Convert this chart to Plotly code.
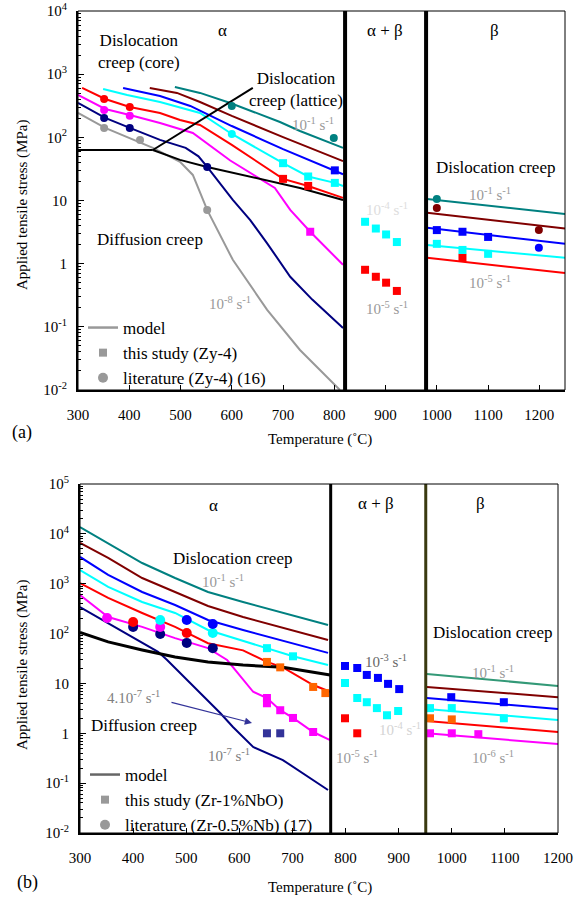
import plotly.graph_objects as go

W, H = 584, 899
FONT = "Liberation Serif, Times New Roman, Times, serif"

# ---------------- Panel (a): Zy-4 ----------------
a_phase_T = [821, 979]
a_xticks = [300, 400, 500, 600, 700, 800, 900, 1000, 1100, 1200]
a_yticks = [0.01, 0.1, 1, 10, 100, 1000, 10000]
a_yticktext = ["10<sup>-2</sup>", "10<sup>-1</sup>", "1", "10", "10<sup>2</sup>", "10<sup>3</sup>", "10<sup>4</sup>"]

# model curves, alpha region (T in degC, stress in MPa)
a_teal_T = [489, 538, 597, 694, 733, 817]
a_teal_S = [627, 505, 350, 175, 126, 68]
a_darkred_T = [440, 493, 538, 600, 700, 733, 817]
a_darkred_S = [605, 505, 363, 218, 101, 79, 42]
a_blue_T = [388, 460, 519, 600, 700, 801, 817]
a_blue_S = [605, 452, 314, 151, 65, 30, 26]
a_cyan_T = [349, 396, 460, 538, 600, 700, 749, 801, 817]
a_cyan_S = [583, 469, 363, 243, 113, 39, 24, 19, 17]
a_red_T = [308, 353, 401, 460, 499, 538, 600, 700, 749, 817]
a_red_S = [605, 405, 303, 243, 188, 157, 76, 22, 17, 11]
a_magenta_T = [300, 353, 401, 460, 524, 597, 684, 714, 753, 817]
a_magenta_S = [469, 281, 226, 169, 117, 43, 15.8, 7.1, 3.2, 0.96]
a_navy_T = [300, 353, 401, 460, 510, 535, 552, 602, 636, 669, 714, 757, 817]
a_navy_S = [350, 203, 141, 91, 68, 50, 34, 10.2, 4.9, 2.1, 0.62, 0.27, 0.096]
a_grey_T = [300, 353, 446, 499, 524, 538, 552, 602, 669, 733, 811]
a_grey_S = [243, 141, 68, 41, 25.4, 13.2, 7.1, 1.15, 0.186, 0.043, 0.01]

# model curves, beta region
a_beta_T = [981, 1250]
a_beta_teal_S = [10.6, 6.1]
a_beta_darkred_S = [6.4, 3.6]
a_beta_blue_S = [3.7, 2.06]
a_beta_cyan_S = [1.98, 1.24]
a_beta_red_S = [1.24, 0.71]

# mechanism boundaries
a_bnd_h_T = [300, 446]
a_bnd_h_S = [63, 63]
a_bnd_up_T = [446, 641]
a_bnd_up_S = [63, 605]
a_bnd_low_T = [446, 499, 552, 636, 733, 817]
a_bnd_low_S = [63, 44, 34, 23.6, 15.8, 10.2]

# this study (squares)
a_sq_red_T = [700, 749, 860, 881, 901, 922, 1050]
a_sq_red_S = [22, 17, 0.80, 0.62, 0.50, 0.37, 1.24]
a_sq_cyan_T = [700, 749, 801, 860, 881, 901, 922, 1000, 1050, 1100]
a_sq_cyan_S = [39, 24, 19, 4.6, 3.6, 2.9, 2.2, 2.06, 1.65, 1.43]
a_sq_blue_T = [801, 1000, 1050, 1100]
a_sq_blue_S = [30, 3.4, 3.2, 2.65]
a_sq_magenta_T = [753]
a_sq_magenta_S = [3.2]

# literature (dots)
a_dot_red_T = [351, 401]
a_dot_red_S = [405, 303]
a_dot_magenta_T = [351, 401]
a_dot_magenta_S = [271, 219]
a_dot_navy_T = [351, 401, 552]
a_dot_navy_S = [203, 141, 34]
a_dot_grey_T = [351, 421, 552]
a_dot_grey_S = [141, 91, 7.1]
a_dot_cyan_T = [600]
a_dot_cyan_S = [113]
a_dot_teal_T = [600, 799, 1000]
a_dot_teal_S = [314, 98, 10.6]
a_dot_darkred_T = [1000, 1199]
a_dot_darkred_S = [7.6, 3.4]
a_dot_blue_T = [1199]
a_dot_blue_S = [1.78]

# ---------------- Panel (b): Zr-1%NbO ----------------
b_phase_T = [772, 951]
b_xticks = [300, 400, 500, 600, 700, 800, 900, 1000, 1100, 1200]
b_yticks = [0.01, 0.1, 1, 10, 100, 1000, 10000, 100000]
b_yticktext = ["10<sup>-2</sup>", "10<sup>-1</sup>", "1", "10", "10<sup>2</sup>", "10<sup>3</sup>", "10<sup>4</sup>", "10<sup>5</sup>"]

b_T7 = [300, 353, 417, 479, 541, 607, 767]
b_teal_S = [13700, 6560, 2600, 1300, 683, 430, 149]
b_darkred_S = [6560, 3280, 1300, 683, 357, 215, 74]
b_blue_S = [3440, 1500, 683, 374, 187, 118, 41]
b_cyan_T = [300, 353, 417, 479, 541, 607, 652, 701, 767]
b_cyan_S = [1880, 860, 430, 259, 118, 71, 51, 35, 23.4]
b_red_T = [300, 353, 417, 479, 541, 607, 652, 682, 739, 771]
b_red_S = [1030, 518, 259, 136, 64, 46, 27, 21, 9.3, 6.8]
b_magenta_T = [300, 353, 417, 479, 541, 577, 626, 652, 677, 701, 739, 771]
b_magenta_S = [594, 215, 136, 81, 51, 29.5, 6.8, 5.1, 2.9, 2.03, 1.06, 0.73]
b_navy_T = [300, 353, 417, 447, 464, 483, 526, 564, 588, 626, 682, 767]
b_navy_S = [341, 163, 65, 43, 29.5, 18.6, 6.4, 2.55, 1.34, 0.53, 0.29, 0.073]
b_black_T = [300, 353, 417, 479, 541, 607, 682, 771]
b_black_S = [105, 68, 47, 34, 27, 23.4, 21, 14.8]

b_beta_T = [953, 1200]
b_beta_green_S = [15.5, 8.9]
b_beta_darkred_S = [8.5, 5.3]
b_beta_blue_S = [5.1, 3.07]
b_beta_cyan_S = [3.07, 1.85]
b_beta_red_S = [1.77, 1.06]
b_beta_magenta_S = [1.0, 0.61]

b_sq_cyan_T = [652, 701, 799, 822, 840, 859, 878, 899, 959, 1000, 1098]
b_sq_cyan_S = [51, 35, 10.2, 5.1, 4.2, 3.2, 2.3, 2.8, 3.2, 3.2, 2.0]
b_sq_orange_T = [652, 677, 739, 762, 959, 1000]
b_sq_orange_S = [27, 21, 8.5, 6.4, 2.0, 1.9]
b_sq_magenta_T = [652, 652, 677, 701, 739, 959, 1000, 1050]
b_sq_magenta_S = [5.1, 4.0, 2.9, 2.03, 1.06, 1.0, 1.0, 0.96]
b_sq_navy_T = [652, 677]
b_sq_navy_S = [1.0, 1.0]
b_sq_blue_T = [799, 822, 840, 861, 880, 901, 999, 1098]
b_sq_blue_S = [22.4, 20.4, 14.8, 12.9, 9.8, 7.7, 5.3, 4.2]
b_sq_red_T = [799, 822]
b_sq_red_S = [2.0, 1.0]

b_dot_navy_T = [400, 451, 501, 550]
b_dot_navy_S = [136, 98, 65, 51]
b_dot_magenta_T = [351, 451]
b_dot_magenta_S = [205, 136]
b_dot_red_T = [400, 501]
b_dot_red_S = [171, 103]
b_dot_cyan_T = [451, 550]
b_dot_cyan_S = [187, 103]
b_dot_blue_T = [501, 550]
b_dot_blue_S = [187, 156]

# ---------------- colours ----------------
TEAL = "#008080"
GREEN = "#339977"
DARKRED = "#800000"
BLUE = "#0000ff"
CYAN = "#00ffff"
RED = "#ff0000"
MAGENTA = "#ff00ff"
NAVY = "#000080"
GREY = "#999999"
ORANGE = "#ff6600"
BLACK = "#000000"

fig = go.Figure()


def line(T, S, color, ax, width=2):
    xa, ya = ("x", "y") if ax == "a" else ("x2", "y2")
    fig.add_trace(go.Scatter(x=T, y=S, mode="lines", line=dict(color=color, width=width),
                             xaxis=xa, yaxis=ya, showlegend=False, hoverinfo="skip"))


def pts(T, S, color, ax, symbol, size):
    xa, ya = ("x", "y") if ax == "a" else ("x2", "y2")
    fig.add_trace(go.Scatter(x=T, y=S, mode="markers",
                             marker=dict(color=color, symbol=symbol, size=size, line=dict(width=0)),
                             xaxis=xa, yaxis=ya, showlegend=False, hoverinfo="skip"))


# panel (a) lines
line(a_grey_T, a_grey_S, GREY, "a")
line(a_navy_T, a_navy_S, NAVY, "a")
line(a_magenta_T, a_magenta_S, MAGENTA, "a")
line(a_red_T, a_red_S, RED, "a")
line(a_cyan_T, a_cyan_S, CYAN, "a")
line(a_blue_T, a_blue_S, BLUE, "a")
line(a_darkred_T, a_darkred_S, DARKRED, "a")
line(a_teal_T, a_teal_S, TEAL, "a")
line(a_beta_T, a_beta_teal_S, TEAL, "a")
line(a_beta_T, a_beta_darkred_S, DARKRED, "a")
line(a_beta_T, a_beta_blue_S, BLUE, "a")
line(a_beta_T, a_beta_cyan_S, CYAN, "a")
line(a_beta_T, a_beta_red_S, RED, "a")
line(a_bnd_h_T, a_bnd_h_S, BLACK, "a")
line(a_bnd_up_T, a_bnd_up_S, BLACK, "a")
line(a_bnd_low_T, a_bnd_low_S, BLACK, "a")

pts(a_sq_red_T, a_sq_red_S, RED, "a", "square", 8)
pts(a_sq_cyan_T, a_sq_cyan_S, CYAN, "a", "square", 8)
pts(a_sq_blue_T, a_sq_blue_S, BLUE, "a", "square", 8)
pts(a_sq_magenta_T, a_sq_magenta_S, MAGENTA, "a", "square", 8)
pts(a_dot_red_T, a_dot_red_S, RED, "a", "circle", 8)
pts(a_dot_magenta_T, a_dot_magenta_S, MAGENTA, "a", "circle", 8)
pts(a_dot_navy_T, a_dot_navy_S, NAVY, "a", "circle", 8)
pts(a_dot_grey_T, a_dot_grey_S, GREY, "a", "circle", 8)
pts(a_dot_cyan_T, a_dot_cyan_S, CYAN, "a", "circle", 8)
pts(a_dot_teal_T, a_dot_teal_S, TEAL, "a", "circle", 8)
pts(a_dot_darkred_T, a_dot_darkred_S, DARKRED, "a", "circle", 8)
pts(a_dot_blue_T, a_dot_blue_S, BLUE, "a", "circle", 8)

# panel (b) lines
line(b_navy_T, b_navy_S, NAVY, "b")
line(b_magenta_T, b_magenta_S, MAGENTA, "b")
line(b_red_T, b_red_S, RED, "b")
line(b_cyan_T, b_cyan_S, CYAN, "b")
line(b_T7, b_blue_S, BLUE, "b")
line(b_T7, b_darkred_S, DARKRED, "b")
line(b_T7, b_teal_S, TEAL, "b")
line(b_black_T, b_black_S, BLACK, "b", 3)
line(b_beta_T, b_beta_green_S, GREEN, "b")
line(b_beta_T, b_beta_darkred_S, DARKRED, "b")
line(b_beta_T, b_beta_blue_S, BLUE, "b")
line(b_beta_T, b_beta_cyan_S, CYAN, "b")
line(b_beta_T, b_beta_red_S, RED, "b")
line(b_beta_T, b_beta_magenta_S, MAGENTA, "b")

pts(b_sq_cyan_T, b_sq_cyan_S, CYAN, "b", "square", 8)
pts(b_sq_orange_T, b_sq_orange_S, ORANGE, "b", "square", 8)
pts(b_sq_magenta_T, b_sq_magenta_S, MAGENTA, "b", "square", 8)
pts(b_sq_navy_T, b_sq_navy_S, "#333399", "b", "square", 8)
pts(b_sq_blue_T, b_sq_blue_S, BLUE, "b", "square", 8)
pts(b_sq_red_T, b_sq_red_S, RED, "b", "square", 8)
pts(b_dot_navy_T, b_dot_navy_S, NAVY, "b", "circle", 10)
pts(b_dot_magenta_T, b_dot_magenta_S, MAGENTA, "b", "circle", 10)
pts(b_dot_red_T, b_dot_red_S, RED, "b", "circle", 10)
pts(b_dot_cyan_T, b_dot_cyan_S, CYAN, "b", "circle", 10)
pts(b_dot_blue_T, b_dot_blue_S, BLUE, "b", "circle", 10)

# legend entries
for lg, xa, ya, lab2, lab3, lc in [("legend", "x", "y", "this study (Zy-4)", "literature (Zy-4) (16)", GREY),
                                   ("legend2", "x2", "y2", "this study (Zr-1%NbO)", "literature (Zr-0.5%Nb) (17)", "#666666")]:
    fig.add_trace(go.Scatter(x=[None], y=[None], mode="lines", line=dict(color=lc, width=2.5),
                             name="model", legend=lg, xaxis=xa, yaxis=ya))
    fig.add_trace(go.Scatter(x=[None], y=[None], mode="markers",
                             marker=dict(color=GREY, symbol="square", size=8),
                             name=lab2, legend=lg, xaxis=xa, yaxis=ya))
    fig.add_trace(go.Scatter(x=[None], y=[None], mode="markers",
                             marker=dict(color=GREY, symbol="circle", size=10),
                             name=lab3, legend=lg, xaxis=xa, yaxis=ya))


def P(px, py):
    return px / W, 1 - py / H


def ann(px, py, text, size=17, color="black", angle=0, align="center"):
    x, y = P(px, py)
    return dict(x=x, y=y, xref="paper", yref="paper", text=text, showarrow=False,
                textangle=angle, align=align, xanchor="center", yanchor="middle",
                font=dict(family=FONT, size=size, color=color))


RATE = "10<sup>%s</sup> s<sup>-1</sup>"
annotations = [
    # panel (a)
    ann(222, 30, "α"), ann(385, 30, "α + β"), ann(494, 30, "β"),
    ann(139, 52, "Dislocation<br>creep (core)"),
    ann(296, 90, "Dislocation<br>creep (lattice)"),
    ann(313, 124, RATE % "-1", 15, "#999999"),
    ann(150, 240, "Diffusion creep"),
    ann(230, 303, RATE % "-8", 15, "#999999"),
    ann(387, 209, RATE % "-4", 15, "#dddddd"),
    ann(387, 308, RATE % "-5", 15, "#999999"),
    ann(495, 168, "Dislocation creep"),
    ann(490, 194, RATE % "-1", 15, "#999999"),
    ann(490, 282, RATE % "-5", 15, "#999999"),
    ann(22, 205, "Applied tensile stress (MPa)", 15, angle=-90),
    ann(320, 440, "Temperature (˚C)", 15),
    ann(22, 433, "(a)", 18),
    # panel (b)
    ann(213, 505, "α"), ann(376, 503, "α + β"), ann(480, 503, "β"),
    ann(232, 558, "Dislocation creep"),
    ann(223, 581, RATE % "-1", 15, "#999999"),
    ann(492, 632, "Dislocation creep"),
    ann(493, 672, RATE % "-1", 15, "#999999"),
    ann(493, 757, RATE % "-6", 15, "#999999"),
    ann(386, 661, RATE % "-3", 15, "#666666"),
    ann(400, 729, RATE % "-4", 15, "#d4d4d4"),
    ann(357, 757, RATE % "-5", 15, "#999999"),
    ann(133, 697, "4.10<sup>-7</sup> s<sup>-1</sup>", 15, "#808080"),
    ann(144, 725, "Diffusion creep"),
    ann(229, 755, RATE % "-7", 15, "#808080"),
    ann(22, 665, "Applied tensile stress (MPa)", 15, angle=-90),
    ann(320, 887, "Temperature (˚C)", 15),
    ann(27, 882, "(b)", 18),
]
hx, hy = P(252, 723)
annotations.append(dict(x=hx, y=hy, xref="paper", yref="paper", text="", showarrow=True,
                        ax=-82, ay=-21, arrowhead=2, arrowsize=1.2, arrowwidth=1.2,
                        arrowcolor="#333399"))

shapes = []
for T0 in a_phase_T:
    shapes.append(dict(type="line", xref="x", yref="y domain", x0=T0, x1=T0, y0=0, y1=1,
                       line=dict(color="black", width=4)))
shapes.append(dict(type="line", xref="x2", yref="y2 domain", x0=b_phase_T[0], x1=b_phase_T[0],
                   y0=0, y1=1, line=dict(color="black", width=3)))
shapes.append(dict(type="line", xref="x2", yref="y2 domain", x0=b_phase_T[1], x1=b_phase_T[1],
                   y0=0, y1=1, line=dict(color="#3a3a10", width=3)))
for xr, yr in [("x domain", "y domain"), ("x2 domain", "y2 domain")]:
    shapes.append(dict(type="rect", xref=xr, yref=yr, x0=0, x1=1, y0=0, y1=1,
                       line=dict(color="black", width=1)))


def minor_vals(lo, hi):
    return [m * 10.0 ** e for e in range(lo, hi) for m in range(2, 10)]


def xaxis(dom, rng, ticks, anchor):
    return dict(domain=dom, range=rng, anchor=anchor, tickvals=ticks, ticks="inside", ticklen=5,
                tickwidth=1, tickcolor="black", showline=True, linewidth=2, linecolor="black",
                showgrid=False, zeroline=False, ticklabelstandoff=10, automargin=False,
                tickfont=dict(family=FONT, size=15, color="black"))


def yaxis(dom, rng, tv, tt, anchor):
    return dict(domain=dom, type="log", range=rng, anchor=anchor, tickvals=tv, ticktext=tt,
                ticks="inside", ticklen=6, tickwidth=1, tickcolor="black", showline=True,
                linewidth=2, linecolor="black", showgrid=False, zeroline=False, automargin=False,
                ticklabelstandoff=6, tickfont=dict(family=FONT, size=15, color="black"),
                minor=dict(ticks="inside", ticklen=3, tickcolor="black", tickwidth=1,
                           tickvals=minor_vals(rng[0], rng[1]), showgrid=False))


fig.update_layout(
    width=W, height=H, autosize=False, margin=dict(l=0, r=0, t=0, b=0, pad=0, autoexpand=False),
    paper_bgcolor="white", plot_bgcolor="white",
    xaxis=xaxis([78 / W, 565 / W], [300, 1250], a_xticks, "y"),
    yaxis=yaxis([1 - 390 / H, 1 - 11 / H], [-2, 4], a_yticks, a_yticktext, "x"),
    xaxis2=xaxis([80 / W, 558 / W], [300, 1200], b_xticks, "y2"),
    yaxis2=yaxis([1 - 833 / H, 1 - 484 / H], [-2, 5], b_yticks, b_yticktext, "x2"),
    annotations=annotations, shapes=shapes,
    legend=dict(x=83 / W, y=1 - 310 / H, xanchor="left", yanchor="top", bgcolor="rgba(0,0,0,0)",
                font=dict(family=FONT, size=17, color="black"), itemwidth=30, tracegroupgap=0),
    legend2=dict(x=85 / W, y=1 - 757 / H, xanchor="left", yanchor="top", bgcolor="rgba(0,0,0,0)",
                 font=dict(family=FONT, size=17, color="black"), itemwidth=30, tracegroupgap=0),
    font=dict(family=FONT),
)

fig.write_html("out.html", config={"displayModeBar": False},
               post_script="document.body.style.margin='0px';document.body.style.overflow='hidden';")
